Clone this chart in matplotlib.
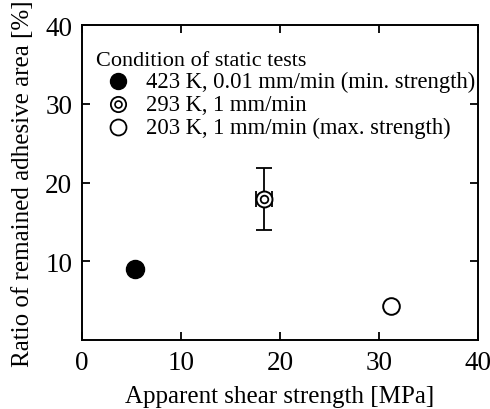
import matplotlib
matplotlib.use("Agg")
import matplotlib.pyplot as plt

plt.rcParams['font.family'] = ['Liberation Serif', 'DejaVu Serif']

# Data
labels = ["423 K, 0.01 mm/min (min. strength)", "293 K, 1 mm/min", "203 K, 1 mm/min (max. strength)"]
shear = [5.4, 18.4, 31.2]
ratio = [9.0, 17.9, 4.3]
mid_yerr = 3.95
mid_xerr = 0.8
x_ticks = [0, 10, 20, 30, 40]
y_ticks = [10, 20, 30, 40]

fig = plt.figure(figsize=(4.9, 4.1), dpi=100)
ax = fig.add_axes([82/490, 1-341/410, (478-82)/490, (341-26)/410])

ax.errorbar(shear[1], ratio[1], yerr=mid_yerr, xerr=mid_xerr, fmt='none', ecolor='black',
            elinewidth=1.3, capsize=5.8, capthick=1.3, zorder=2)
ax.plot(shear[0], ratio[0], 'o', ms=13, mfc='black', mec='black', zorder=3)
ax.plot(shear[1], ratio[1], 'o', ms=11.5, mfc='white', mec='black', mew=1.4, zorder=3)
ax.plot(shear[1], ratio[1], 'o', ms=5.5, mfc='white', mec='black', mew=1.3, zorder=4)
ax.plot(shear[2], ratio[2], 'o', ms=12, mfc='white', mec='black', mew=1.4, zorder=3)

ax.set_xlim(0, 40)
ax.set_ylim(0, 40)
ax.set_xticks(x_ticks)
ax.set_yticks(y_ticks)
ax.tick_params(direction='in', length=6, width=1.3, top=True, right=True, labelsize=19.5, pad=7)
for s in ax.spines.values():
    s.set_linewidth(1.4)

ax.set_xlabel("Apparent shear strength [MPa]", fontsize=18, labelpad=7.5)
ax.set_ylabel("Ratio of remained adhesive area [%]", fontsize=18, labelpad=8)

# Legend
ax.text(0.035, 0.886, "Condition of static tests", transform=ax.transAxes, fontsize=16, va='center')
leg_y = [0.822, 0.749, 0.676]
tx = 0.162
mx = 0.091
ax.plot(mx, leg_y[0], 'o', transform=ax.transAxes, ms=11.5, mfc='black', mec='black', clip_on=False)
ax.plot(mx, leg_y[1], 'o', transform=ax.transAxes, ms=11, mfc='white', mec='black', mew=1.3, clip_on=False)
ax.plot(mx, leg_y[1], 'o', transform=ax.transAxes, ms=5, mfc='white', mec='black', mew=1.2, clip_on=False)
ax.plot(mx, leg_y[2], 'o', transform=ax.transAxes, ms=11.5, mfc='white', mec='black', mew=1.3, clip_on=False)
for y, lab in zip(leg_y, labels):
    ax.text(tx, y, lab, transform=ax.transAxes, fontsize=16.3, va='center')

fig.savefig("out.png", dpi=100)
